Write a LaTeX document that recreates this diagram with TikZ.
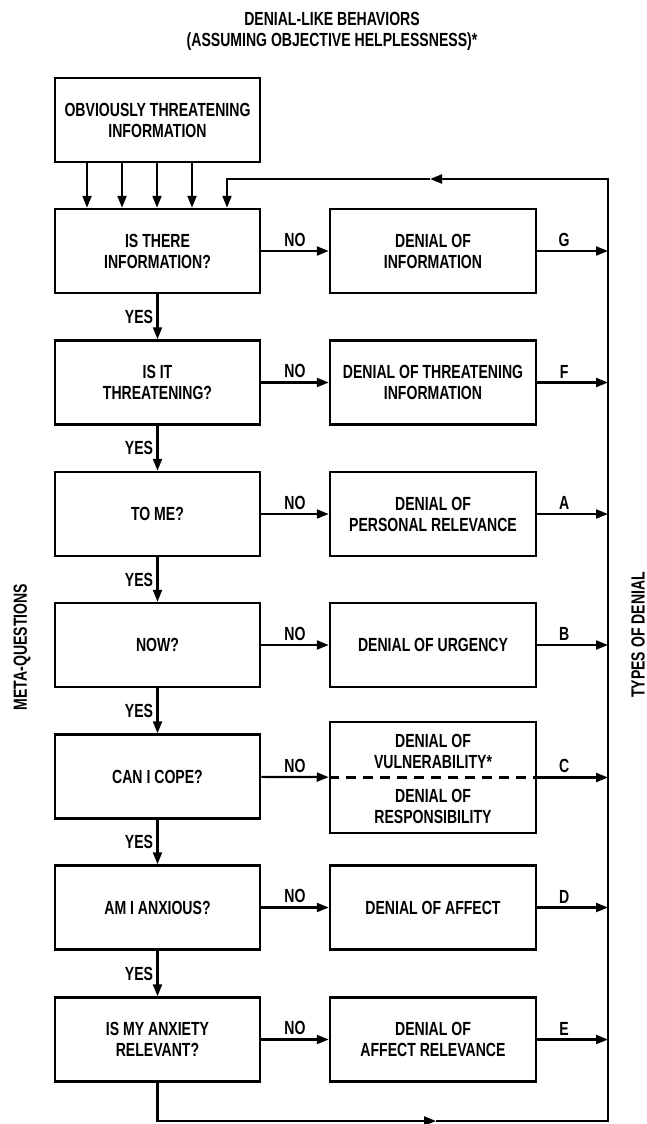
\documentclass[tikz,border=0pt]{standalone}
\usepackage{fontspec}
\setmainfont{Liberation Sans}[FakeStretch=0.74]
\usetikzlibrary{arrows.meta}

\tikzset{
  qbox/.style={draw, line width=2.5pt, minimum width=205pt, minimum height=84pt,
    align=center, inner sep=0pt},
  dbox/.style={qbox, minimum width=206pt},
  arr/.style={-{Triangle[length=12pt,width=9pt]}, line width=2.2pt},
  split/.style={line width=2.5pt, dash pattern=on 10pt off 7pt}
}

\begin{document}
\begin{tikzpicture}[x=1pt, y=-1pt, font=\bfseries\fontsize{19}{21}\selectfont]
    \useasboundingbox (0,0) rectangle (647,1124);

    \node[align=center] (title) at (332,31) {DENIAL-LIKE BEHAVIORS\\(ASSUMING OBJECTIVE HELPLESSNESS)*};
    \node[rotate=90] (meta) at (22,647) {META-QUESTIONS};
    \node[rotate=90] (types) at (638,635) {TYPES OF DENIAL};

    % meta-questions
    \node[qbox] (info) at (157.5,120) {OBVIOUSLY THREATENING\\INFORMATION};
    \node[qbox] (q1) at (157.5,251) {IS THERE\\INFORMATION?};
    \node[qbox] (q2) at (157.5,382.5) {IS IT\\THREATENING?};
    \node[qbox] (q3) at (157.5,514) {TO ME?};
    \node[qbox] (q4) at (157.5,645) {NOW?};
    \node[qbox] (q5) at (157.5,776.5) {CAN I COPE?};
    \node[qbox] (q6) at (157.5,907.5) {AM I ANXIOUS?};
    \node[qbox] (q7) at (157.5,1039.5) {IS MY ANXIETY\\RELEVANT?};

    % types of denial
    \node[dbox] (d1) at (433,251) {DENIAL OF\\INFORMATION};
    \node[dbox] (d2) at (433,382.5) {DENIAL OF THREATENING\\INFORMATION};
    \node[dbox] (d3) at (433,514) {DENIAL OF\\PERSONAL RELEVANCE};
    \node[dbox] (d4) at (433,645) {DENIAL OF URGENCY};
    \node[dbox, minimum height=111pt] (d5) at (433,777.5) {};
    \node[align=center] (d5a) at (433,751) {DENIAL OF\\VULNERABILITY*};
    \node[align=center] (d5b) at (433,806) {DENIAL OF\\RESPONSIBILITY};
    \node[dbox] (d6) at (433,907.5) {DENIAL OF AFFECT};
    \node[dbox] (d7) at (433,1039.5) {DENIAL OF\\AFFECT RELEVANCE};

    \coordinate (rtop) at (608,179);
    \coordinate (rbot) at (608,1121);
    \coordinate (ltop) at (227,179);
    \coordinate (topmid) at (430,179);
    \coordinate (lbot) at (157.5,1121);
    \coordinate (botmid) at (436,1121);

    \foreach \x in {87,122,157,192}
      \draw[arr] (info.south -| \x,0) -- (q1.north -| \x,0);

    \draw[arr] (q1) -- node[left] {YES} (q2);
    \draw[arr] (q2) -- node[left] {YES} (q3);
    \draw[arr] (q3) -- node[left] {YES} (q4);
    \draw[arr] (q4) -- node[left] {YES} (q5);
    \draw[arr] (q5) -- node[left] {YES} (q6);
    \draw[arr] (q6) -- node[left] {YES} (q7);

    \foreach \i/\t in {1/G,2/F,3/A,4/B,5/C,6/D,7/E} {
      \draw[arr] (q\i) -- node[above] {NO} (d\i);
      \draw[arr] (d\i) -- node[above, pos=0.38] {\t} (d\i -| rtop);
    }
    \draw[split] (d5.west) -- (d5.east);

    % loop back
    \draw[arr] (q7) -- (lbot) -- (botmid);
    \draw[arr] (botmid) -- (rbot) -- (rtop) -- (topmid);
    \draw[arr] (topmid) -- (ltop) -- (q1.north -| ltop);

\end{tikzpicture}
\end{document}
